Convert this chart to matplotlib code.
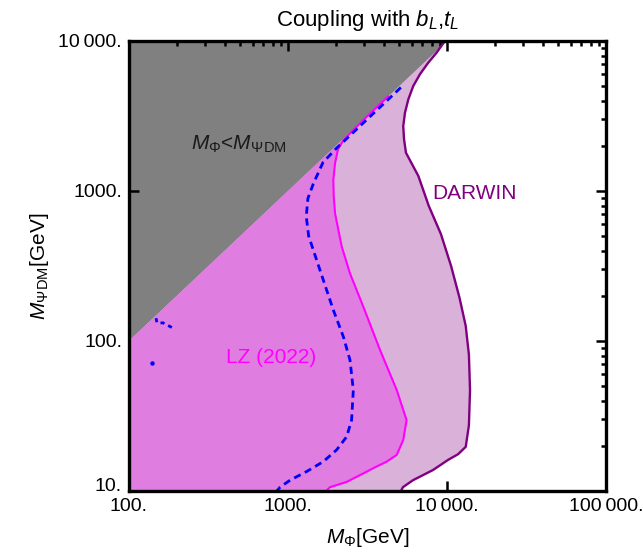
import numpy as np
import matplotlib.pyplot as plt
from matplotlib.ticker import FixedLocator, FixedFormatter, LogLocator, NullFormatter
from matplotlib.transforms import ScaledTranslation

plt.rcParams['font.family'] = ['Liberation Sans', 'DejaVu Sans']
plt.rcParams['mathtext.fontset'] = 'custom'
plt.rcParams['mathtext.rm'] = 'Liberation Sans'
plt.rcParams['mathtext.it'] = 'Liberation Sans:italic'

# DARWIN projected limit (GeV)
darwin_x = [9700, 8610, 7620, 6760, 6138, 5715, 5445, 5309, 5370, 5521, 6607, 7674,
            9162, 10617, 11995, 13122, 13740, 13964, 13740, 13122, 11749, 10140,
            8166, 6110, 5280, 5140]
darwin_y = [10000, 8360, 7160, 5998, 5012, 4083, 3327, 2710, 2213, 1799, 1259, 798,
            516, 316, 194, 126, 81, 47.1, 27.4, 19.7, 17.6, 16.1,
            13.8, 11.8, 10.6, 10]

# LZ (2022) limit
lz_x = [4266, 3162, 2512, 2239, 2065, 1977, 1928, 1941, 1977, 2178, 2455, 2979,
        3793, 4831, 5572, 5309, 4831, 4178, 3443, 2979, 2339, 1837, 1738]
lz_y = [4266, 3162, 2483, 2188, 1905, 1531, 1183, 912, 710, 426, 282, 169,
        87.1, 47.1, 29.7, 21.9, 17.4, 15.7, 14.2, 13.1, 11.5, 10.6, 10]

# blue dashed curve
blue_x = [5129, 3548, 2512, 1995, 1660, 1445, 1334, 1303, 1349, 1442, 1589, 1928,
          2228, 2455, 2576, 2512, 2339, 2023, 1667, 1312, 1030, 891, 851]
blue_y = [4898, 3388, 2399, 1905, 1549, 1122, 891, 675, 501, 405, 297, 161,
          107, 74.6, 47.1, 29.7, 23.0, 18.8, 15.7, 13.5, 11.8, 10.6, 10]
blue_bit_x = [148, 150, 164, 189]
blue_bit_y = [142, 132, 132, 122]
blue_dot = (140, 71)

x_ticks = [100, 1000, 10000, 100000]
x_labels = ['100.', '1000.', '10\u2009000.', '100\u2009000.']
y_ticks = [10, 100, 1000, 10000]
y_labels = ['10.', '100.', '1000.', '10\u2009000.']

fig = plt.figure(figsize=(6.43, 5.53), dpi=100)
ax = fig.add_axes([0.2006, 0.1121, 0.7418, 0.8138])
ax.set_xscale('log')
ax.set_yscale('log')
ax.set_xlim(100, 100000)
ax.set_ylim(10, 10000)

grey = '#808080'
fill_lz = '#e07de0'
fill_darwin = '#d9b1d9'

# DARWIN region: left edge, diagonal, curve
ax.fill([100, 100] + darwin_x, [10, 100] + darwin_y, color=fill_darwin, lw=0, zorder=1)
# excluded triangle M_Phi < M_DM
ax.fill([100, 10000, 100], [100, 10000, 10000], color=grey, lw=0, zorder=2)
# LZ region
ax.fill([100, 100] + lz_x, [10, 100] + lz_y, color=fill_lz, lw=0, zorder=3)

ax.plot(darwin_x, darwin_y, color='#800080', lw=1.7, zorder=4, solid_joinstyle='round')
ax.plot(lz_x, lz_y, color='#ff00ff', lw=1.5, zorder=4, solid_joinstyle='round')
ax.plot(blue_x, blue_y, color='#0000ff', lw=2.0, ls=(0, (2.6, 1.7)), zorder=5)
ax.plot(blue_bit_x, blue_bit_y, color='#0000ff', lw=2.0, ls=(0, (1.5, 1.5)), zorder=5)
ax.plot(*blue_dot, 'o', color='#0000ff', ms=2.2, zorder=5)

ax.text(244, 1877, r'$M_{\Phi}$<$M_{\Psi}{}_{\rm DM}$', fontsize=15, ha='left', va='baseline',
        color='#1a1a1a', zorder=6)
ax.text(407, 71.3, 'LZ (2022)', fontsize=15, ha='left', va='baseline', color='#ff00ff', zorder=6)
ax.text(8054, 878, 'DARWIN', fontsize=15, ha='left', va='baseline', color='#800080', zorder=6)

ax.set_title(r'Coupling with $b_L$,$t_L$', fontsize=16, pad=11)
ax.set_xlabel(r'$M_{\Phi}$[GeV]', fontsize=15, labelpad=8)
ax.set_ylabel(r'$M_{\Psi}{}_{\rm DM}$[GeV]', fontsize=15, labelpad=5)

ax.xaxis.set_major_locator(FixedLocator(x_ticks))
ax.xaxis.set_major_formatter(FixedFormatter(x_labels))
ax.yaxis.set_major_locator(FixedLocator(y_ticks))
ax.yaxis.set_major_formatter(FixedFormatter(y_labels))
ax.xaxis.set_minor_locator(LogLocator(base=10, subs=np.arange(2, 10)))
ax.yaxis.set_minor_locator(LogLocator(base=10, subs=np.arange(2, 10)))
ax.xaxis.set_minor_formatter(NullFormatter())
ax.yaxis.set_minor_formatter(NullFormatter())

ax.tick_params(which='both', direction='in', labelsize=14, width=1.8, color='black')
ax.tick_params(which='major', length=7, pad=5, top=True, right=True)
ax.tick_params(which='minor', length=3.5, bottom=False, left=False, top=True, right=True)
ax.set_axisbelow(False)
for s in ax.spines.values():
    s.set_linewidth(2.4)
    s.set_zorder(7)

# raise the lowest y label a little so it clears the x labels
fig.canvas.draw()
lab = ax.yaxis.get_majorticklabels()[0]
lab.set_transform(lab.get_transform() + ScaledTranslation(0, 5 / 72, fig.dpi_scale_trans))

fig.savefig('out.png', dpi=100)
